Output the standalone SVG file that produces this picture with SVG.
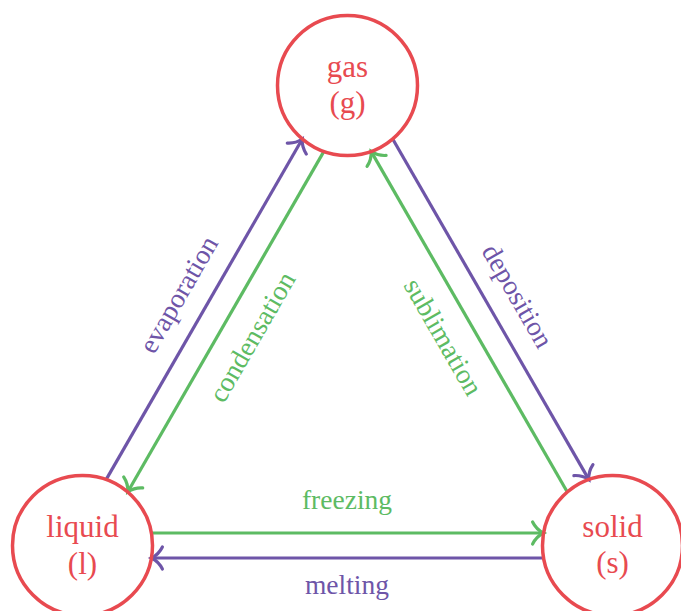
<svg xmlns="http://www.w3.org/2000/svg" width="681" height="611" viewBox="0 0 681 611">
<style>
.node{fill:none;stroke:#E84A50;stroke-width:3.5}
.nl{fill:#E84A50;font-family:"Liberation Serif","DejaVu Serif",serif;font-size:31px;text-anchor:middle}
.el{font-family:"Liberation Serif","DejaVu Serif",serif;font-size:27.5px;text-anchor:middle}
.p{stroke:#6E55A8;stroke-width:3.2;fill:none}
.g{stroke:#5DBB63;stroke-width:3.2;fill:none}
.pt{fill:#6E55A8}
.gt{fill:#5DBB63}
</style>
<defs>
<marker id="ap" markerUnits="userSpaceOnUse" orient="auto" refX="0" refY="0" markerWidth="30" markerHeight="30" viewBox="-15 -15 30 30" overflow="visible">
<path d="M-11,-11 C-7,-3 -2,-1 0,0 C-2,1 -7,3 -11,11" fill="none" stroke="#6E55A8" stroke-width="3.2" stroke-linecap="round"/>
</marker>
<marker id="ag" markerUnits="userSpaceOnUse" orient="auto" refX="0" refY="0" markerWidth="30" markerHeight="30" viewBox="-15 -15 30 30" overflow="visible">
<path d="M-11,-11 C-7,-3 -2,-1 0,0 C-2,1 -7,3 -11,11" fill="none" stroke="#5DBB63" stroke-width="3.2" stroke-linecap="round"/>
</marker>
</defs>
<g id="connectors">
<line class="p" x1="106.1" y1="479.6" x2="302.3" y2="139" marker-end="url(#ap)"/>
<line class="g" x1="323.9" y1="151.4" x2="127.7" y2="492" marker-end="url(#ag)"/>
<line class="p" x1="392.7" y1="139" x2="588.9" y2="479.6" marker-end="url(#ap)"/>
<line class="g" x1="567.3" y1="492" x2="371.1" y2="151.4" marker-end="url(#ag)"/>
<line class="g" x1="151.4" y1="533" x2="543.6" y2="533" marker-end="url(#ag)"/>
<line class="p" x1="543.6" y1="558" x2="151.4" y2="558" marker-end="url(#ap)"/>
<text class="el pt" transform="translate(179.5,295) rotate(-60)" y="8">evaporation</text>
<text class="el gt" transform="translate(253.1,337.5) rotate(-60)" y="8">condensation</text>
<text class="el pt" transform="translate(516.7,296.5) rotate(60)" y="8">deposition</text>
<text class="el gt" transform="translate(442.3,337.5) rotate(60)" y="8">sublimation</text>
<text class="el gt" x="347" y="509">freezing</text>
<text class="el pt" x="347" y="594">melting</text>
</g>
<g id="gas">
<circle class="node" cx="347.5" cy="85.5" r="70"/>
<text class="nl" x="347.5" y="77">gas</text>
<text class="nl" x="347.5" y="113">(g)</text>
</g>
<g id="liquid">
<circle class="node" cx="82.5" cy="545.5" r="70"/>
<text class="nl" x="82.5" y="537">liquid</text>
<text class="nl" x="82.5" y="574">(l)</text>
</g>
<g id="solid">
<circle class="node" cx="612.5" cy="545.5" r="70"/>
<text class="nl" x="612.5" y="537">solid</text>
<text class="nl" x="612.5" y="573">(s)</text>
</g>
</svg>
